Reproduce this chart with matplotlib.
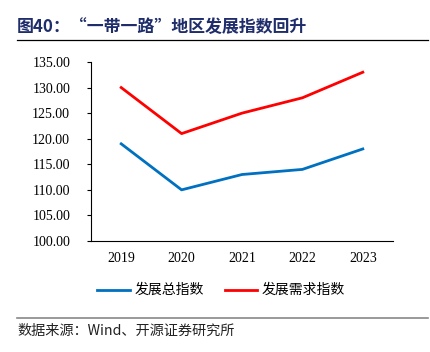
import matplotlib
matplotlib.use("Agg")
import matplotlib.pyplot as plt
from matplotlib.lines import Line2D

years = ["2019", "2020", "2021", "2022", "2023"]
total_index = [119, 110, 113, 114, 118]
demand_index = [130, 121, 125, 128, 133]
yticks = [100, 105, 110, 115, 120, 125, 130, 135]

W, H = 431, 352
fig = plt.figure(figsize=(W/100, H/100), dpi=100)
cjk = ['Noto Sans CJK SC', 'DejaVu Sans']
serif = ['Liberation Serif', 'Noto Sans CJK SC']

ax = fig.add_axes([91/W, 1-241/H, 302/W, 179/H])
x = list(range(len(years)))
ax.plot(x, total_index, color='#0070C0', lw=2)
ax.plot(x, demand_index, color='#FF0000', lw=2)
ax.set_xlim(-0.5, 4.5)
ax.set_ylim(100, 135)
ax.set_yticks(yticks)
ax.set_yticklabels([f"{v:.2f}" for v in yticks], fontfamily=serif, fontsize=10)
ax.set_xticks(x)
ax.set_xticklabels(years, fontfamily=serif, fontsize=10)
ax.tick_params(axis='x', length=0, pad=8)
ax.tick_params(axis='y', length=3, width=0.8, direction='out', pad=12)
for s in ['top', 'right']:
    ax.spines[s].set_visible(False)
for s in ['left', 'bottom']:
    ax.spines[s].set_color('black')
    ax.spines[s].set_linewidth(0.8)

# Title
fig.text(17/W, 1-27/H, "图40：“一带一路”地区发展指数回升", fontfamily=cjk,
         fontsize=12.2, fontweight='bold', color='#1F2D6B', va='center', ha='left')
fig.add_artist(Line2D([17/W, 428/W], [1-40/H, 1-40/H], color='black', lw=0.9))

# Legend
ly = 1-290/H
fig.add_artist(Line2D([97/W, 130/W], [ly, ly], color='#0070C0', lw=2))
fig.text(135/W, ly, "发展总指数", fontfamily=cjk, fontsize=10, va='center', ha='left')
fig.add_artist(Line2D([225/W, 257/W], [ly, ly], color='#FF0000', lw=2))
fig.text(262/W, ly, "发展需求指数", fontfamily=cjk, fontsize=10, va='center', ha='left')

# Footer
fig.add_artist(Line2D([17/W, 428/W], [1-318/H, 1-318/H], color='#888888', lw=1.2))
fig.text(17/W, 1-331/H, "数据来源：Wind、开源证券研究所", fontfamily=['Noto Sans CJK SC', 'DejaVu Sans'],
         fontsize=10.2, va='center', ha='left', color='#222222')

fig.savefig("out.png", dpi=100)
